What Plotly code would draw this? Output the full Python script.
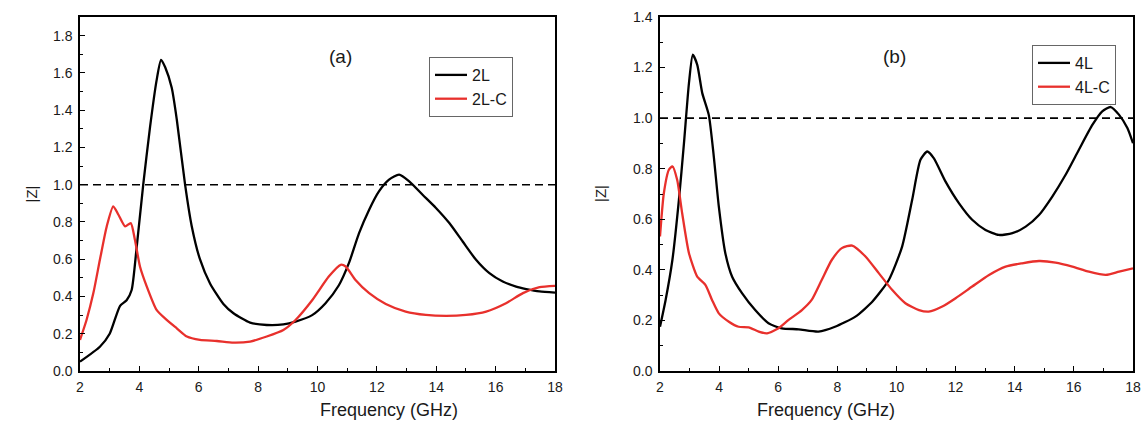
import plotly.graph_objects as go

# ---- data ----
f_2L = [2.0, 2.67, 3.0, 3.35, 3.57, 3.74, 3.9, 4.13, 4.36, 4.58, 4.73, 4.87, 5.09, 5.26, 5.54, 5.76,
        6.04, 6.38, 6.83, 7.17, 7.73, 8.29, 8.85, 9.26, 9.82, 10.27, 10.72, 11.06, 11.4, 11.74, 12.07,
        12.41, 12.75, 13.09, 13.54, 13.99, 14.44, 14.89, 15.34, 15.79, 16.24, 16.69, 17.03, 17.48, 18.0]
z_2L = [0.05, 0.13, 0.20, 0.35, 0.38, 0.435, 0.65, 1.0, 1.31, 1.56, 1.67, 1.63, 1.52, 1.35, 1.0, 0.78,
        0.60, 0.47, 0.36, 0.31, 0.26, 0.247, 0.25, 0.265, 0.30, 0.364, 0.46, 0.58, 0.74, 0.866, 0.964,
        1.027, 1.054, 1.018, 0.946, 0.875, 0.794, 0.695, 0.597, 0.525, 0.48, 0.453, 0.44, 0.427, 0.421]

f_2LC = [2.0, 2.22, 2.45, 2.67, 2.9, 3.12, 3.29, 3.52, 3.71, 3.85, 4.02, 4.25, 4.58, 4.92, 5.26, 5.6,
         6.04, 6.61, 7.17, 7.73, 8.29, 8.85, 9.26, 9.82, 10.38, 10.78, 10.95, 11.28, 11.74, 12.3, 12.97,
         13.65, 14.33, 15.0, 15.68, 16.35, 16.92, 17.48, 18.0]
z_2LC = [0.167, 0.274, 0.418, 0.597, 0.776, 0.884, 0.84, 0.776, 0.794, 0.704, 0.561, 0.453, 0.328, 0.274,
         0.229, 0.185, 0.167, 0.161, 0.152, 0.158, 0.185, 0.22, 0.274, 0.38, 0.507, 0.57, 0.561, 0.489,
         0.418, 0.36, 0.319, 0.301, 0.296, 0.301, 0.319, 0.364, 0.418, 0.45, 0.457]

f_4L = [2.0, 2.19, 2.42, 2.64, 2.81, 2.98, 3.11, 3.26, 3.43, 3.65, 3.82, 3.99, 4.21, 4.44, 4.78, 5.22,
        5.67, 6.12, 6.69, 7.36, 7.92, 8.61, 9.18, 9.74, 10.19, 10.53, 10.81, 11.04, 11.26, 11.66, 12.11,
        12.56, 13.01, 13.46, 13.92, 14.37, 14.82, 15.27, 15.72, 16.17, 16.63, 16.96, 17.25, 17.53, 17.81, 18.0]
z_4L = [0.175, 0.281, 0.44, 0.677, 0.90, 1.139, 1.251, 1.211, 1.099, 1.013, 0.848, 0.65, 0.466, 0.373,
        0.307, 0.241, 0.189, 0.169, 0.165, 0.156, 0.175, 0.215, 0.274, 0.36, 0.492, 0.677, 0.835, 0.868,
        0.842, 0.749, 0.664, 0.598, 0.558, 0.538, 0.545, 0.571, 0.617, 0.69, 0.776, 0.875, 0.974, 1.027,
        1.044, 1.013, 0.961, 0.901]

f_4LC = [2.0, 2.13, 2.3, 2.42, 2.58, 2.75, 2.98, 3.26, 3.54, 3.76, 3.99, 4.33, 4.66, 5.0, 5.34, 5.62,
         6.01, 6.35, 6.8, 7.13, 7.47, 7.81, 8.15, 8.5, 8.95, 9.4, 9.85, 10.3, 10.76, 11.09, 11.55, 12.0,
         12.56, 13.13, 13.69, 14.25, 14.82, 15.38, 15.95, 16.51, 17.08, 17.53, 18.0]
z_4LC = [0.532, 0.703, 0.796, 0.809, 0.756, 0.624, 0.466, 0.373, 0.34, 0.281, 0.228, 0.195, 0.175, 0.173,
         0.156, 0.149, 0.169, 0.202, 0.241, 0.281, 0.36, 0.439, 0.486, 0.496, 0.453, 0.387, 0.321, 0.268,
         0.241, 0.235, 0.255, 0.288, 0.334, 0.38, 0.413, 0.426, 0.435, 0.429, 0.413, 0.393, 0.38, 0.393, 0.406]

names = ["2L", "2L-C", "4L", "4L-C"]
panel_labels = ["(a)", "(b)"]
x_title = "Frequency (GHz)"
y_title = "|Z|"
threshold = 1.0

FONT = "Liberation Sans, Arial, sans-serif"
W, H = 1145, 422
RED = "#e8302c"
TXT = "#1a1a1a"

fig = go.Figure()
spl = dict(width=2.3, shape="spline", smoothing=0.6)
fig.add_trace(go.Scatter(x=f_2L, y=z_2L, name=names[0], mode="lines", line=dict(color="black", **spl),
                         xaxis="x", yaxis="y", legend="legend"))
fig.add_trace(go.Scatter(x=f_2LC, y=z_2LC, name=names[1], mode="lines", line=dict(color=RED, **spl),
                         xaxis="x", yaxis="y", legend="legend"))
fig.add_trace(go.Scatter(x=f_4L, y=z_4L, name=names[2], mode="lines", line=dict(color="black", **spl),
                         xaxis="x2", yaxis="y2", legend="legend2"))
fig.add_trace(go.Scatter(x=f_4LC, y=z_4LC, name=names[3], mode="lines", line=dict(color=RED, **spl),
                         xaxis="x2", yaxis="y2", legend="legend2"))

# dashed reference line at |Z| = 1
for xa, ya in [("x", "y"), ("x2", "y2")]:
    fig.add_trace(go.Scatter(x=[2, 18], y=[threshold, threshold], mode="lines", showlegend=False,
                             line=dict(color="black", width=1.6, dash="8px,5px"), xaxis=xa, yaxis=ya,
                             hoverinfo="skip"))

def xax(domain, anchor):
    return dict(domain=domain, anchor=anchor, range=[2, 18], dtick=2, tick0=2, automargin=False,
                ticks="inside", ticklen=5, tickwidth=1.2, tickcolor="black", ticklabelstandoff=2,
                ticklabeloverflow="allow",
                minor=dict(ticks="inside", ticklen=3, dtick=1, tickcolor="black", tickwidth=1.2),
                showline=True, linecolor="black", linewidth=1.5, mirror=True, showgrid=False, zeroline=False,
                tickfont=dict(size=14, color=TXT, family=FONT))

def yax(domain, anchor, rng):
    return dict(domain=domain, anchor=anchor, range=rng, dtick=0.2, tick0=0, tickformat=".1f",
                automargin=False, ticklabelstandoff=3,
                ticks="inside", ticklen=5, tickwidth=1.2, tickcolor="black",
                minor=dict(ticks="inside", ticklen=3, dtick=0.1, tickcolor="black", tickwidth=1.2),
                showline=True, linecolor="black", linewidth=1.5, mirror=True, showgrid=False, zeroline=False,
                tickfont=dict(size=14, color=TXT, family=FONT))

L1, R1 = 80, 555
L2, R2 = 660, 1133
TOP, BOT = 17, 371
PH = BOT - TOP

def py(pix):
    return (BOT - pix) / PH

leg_common = dict(xanchor="left", yanchor="top", bgcolor="white", bordercolor="#666", borderwidth=1,
                  itemwidth=32, font=dict(size=16, color=TXT, family=FONT), tracegroupgap=0)
fig.update_layout(
    width=W, height=H,
    margin=dict(l=0, r=0, t=TOP, b=H - BOT),
    paper_bgcolor="white", plot_bgcolor="white",
    xaxis=xax([L1 / W, R1 / W], "y"), yaxis=yax([0, 1], "x", [0, 1.9]),
    xaxis2=xax([L2 / W, R2 / W], "y2"), yaxis2=yax([0, 1], "x2", [0, 1.4]),
    legend=dict(x=429 / W, y=py(57), **leg_common),
    legend2=dict(x=1032 / W, y=py(45), **leg_common),
    showlegend=True,
)

ann = []
for lab, cx in zip(panel_labels, [327, 908]):
    ann.append(dict(text=lab, x=cx / W, y=py(44), xref="paper", yref="paper", showarrow=False,
                    font=dict(size=19, color=TXT, family=FONT)))
for cx in [(L1 + R1) / 2, (L2 + R2) / 2]:
    ann.append(dict(text=x_title, x=cx / W, y=py(410), xref="paper", yref="paper", showarrow=False,
                    yanchor="middle", font=dict(size=18, color=TXT, family=FONT)))
for cx in [20, 600]:
    ann.append(dict(text=y_title, x=cx / W, y=0.5, xref="paper", yref="paper", showarrow=False,
                    textangle=-90, font=dict(size=15, color=TXT, family=FONT)))
fig.update_layout(annotations=ann)

fig.write_html("out.html", config={"displayModeBar": False},
               post_script="document.body.style.margin='0';document.body.style.overflow='hidden';")
